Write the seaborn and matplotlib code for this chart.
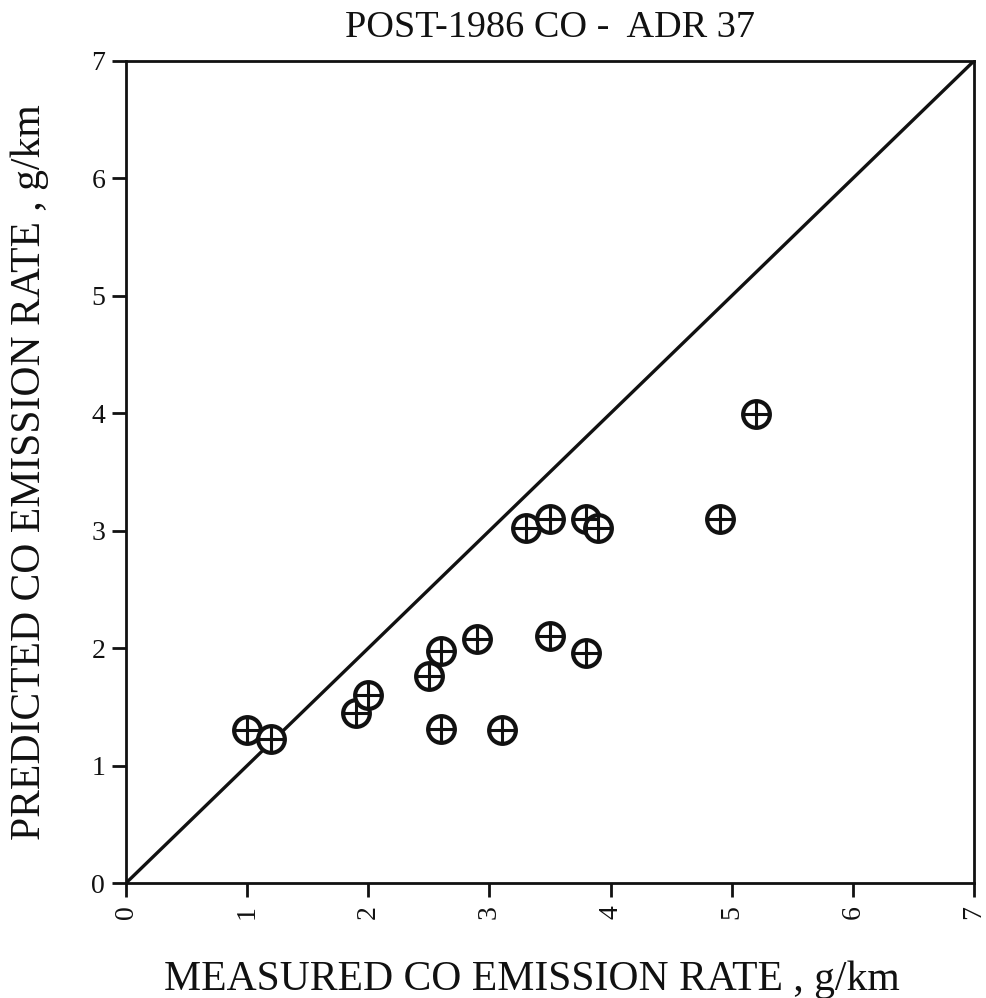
import matplotlib
matplotlib.use("Agg")
import matplotlib.pyplot as plt
import seaborn as sns
import pandas as pd

# Measured vs predicted CO emission rates (g/km)
measured = [1.0, 1.2, 1.9, 2.0, 2.5, 2.6, 2.6, 2.9, 3.1, 3.3, 3.5, 3.5, 3.8, 3.8, 3.9, 4.9, 5.2]
predicted = [1.3, 1.23, 1.45, 1.6, 1.76, 1.98, 1.31, 2.08, 1.3, 3.02, 3.1, 2.1, 3.1, 1.96, 3.02, 3.1, 3.99]
ticks = [0, 1, 2, 3, 4, 5, 6, 7]

df = pd.DataFrame({"measured": measured, "predicted": predicted})

sns.set_style("ticks")
plt.rcParams["font.family"] = ["Liberation Serif", "DejaVu Serif"]

fig = plt.figure(figsize=(9.87, 9.98), dpi=100)
ax = fig.add_axes([0.1277, 0.1152, 0.8591, 0.8237])

# 1:1 reference line
sns.lineplot(x=[0, 7], y=[0, 7], ax=ax, color="#111111", linewidth=2.4)

# circle-plus markers: open circle with a cross inside
sns.scatterplot(data=df, x="measured", y="predicted", ax=ax, marker="o",
                s=370, facecolor="white", edgecolor="#111111", linewidth=3.0, zorder=3)
sns.scatterplot(data=df, x="measured", y="predicted", ax=ax, marker="+",
                s=370, color="#111111", linewidth=2.2, zorder=4)

ax.set_xlim(0, 7)
ax.set_ylim(0, 7)
ax.set_xticks(ticks)
ax.set_yticks(ticks)
ax.set_xticklabels([str(t) for t in ticks], rotation=90, fontsize=20)
ax.set_yticklabels([str(t) for t in ticks], fontsize=20)
ax.tick_params(axis="both", direction="out", length=10, width=2, color="#111111",
               labelcolor="#111111")
ax.tick_params(axis="x", pad=6)
ax.tick_params(axis="y", pad=5)

for sp in ax.spines.values():
    sp.set_linewidth(2)
    sp.set_color("#111111")

ax.set_title("POST-1986 CO -  ADR 37", fontsize=27.5, color="#111111", pad=17)
ax.set_xlabel("MEASURED CO EMISSION RATE , g/km", fontsize=30, color="#111111")
ax.set_ylabel("PREDICTED CO EMISSION RATE , g/km", fontsize=30, color="#111111")
ax.xaxis.set_label_coords(0.479, -0.094)
ax.yaxis.set_label_coords(-0.091, 0.5)

fig.savefig("out.png", dpi=100)
